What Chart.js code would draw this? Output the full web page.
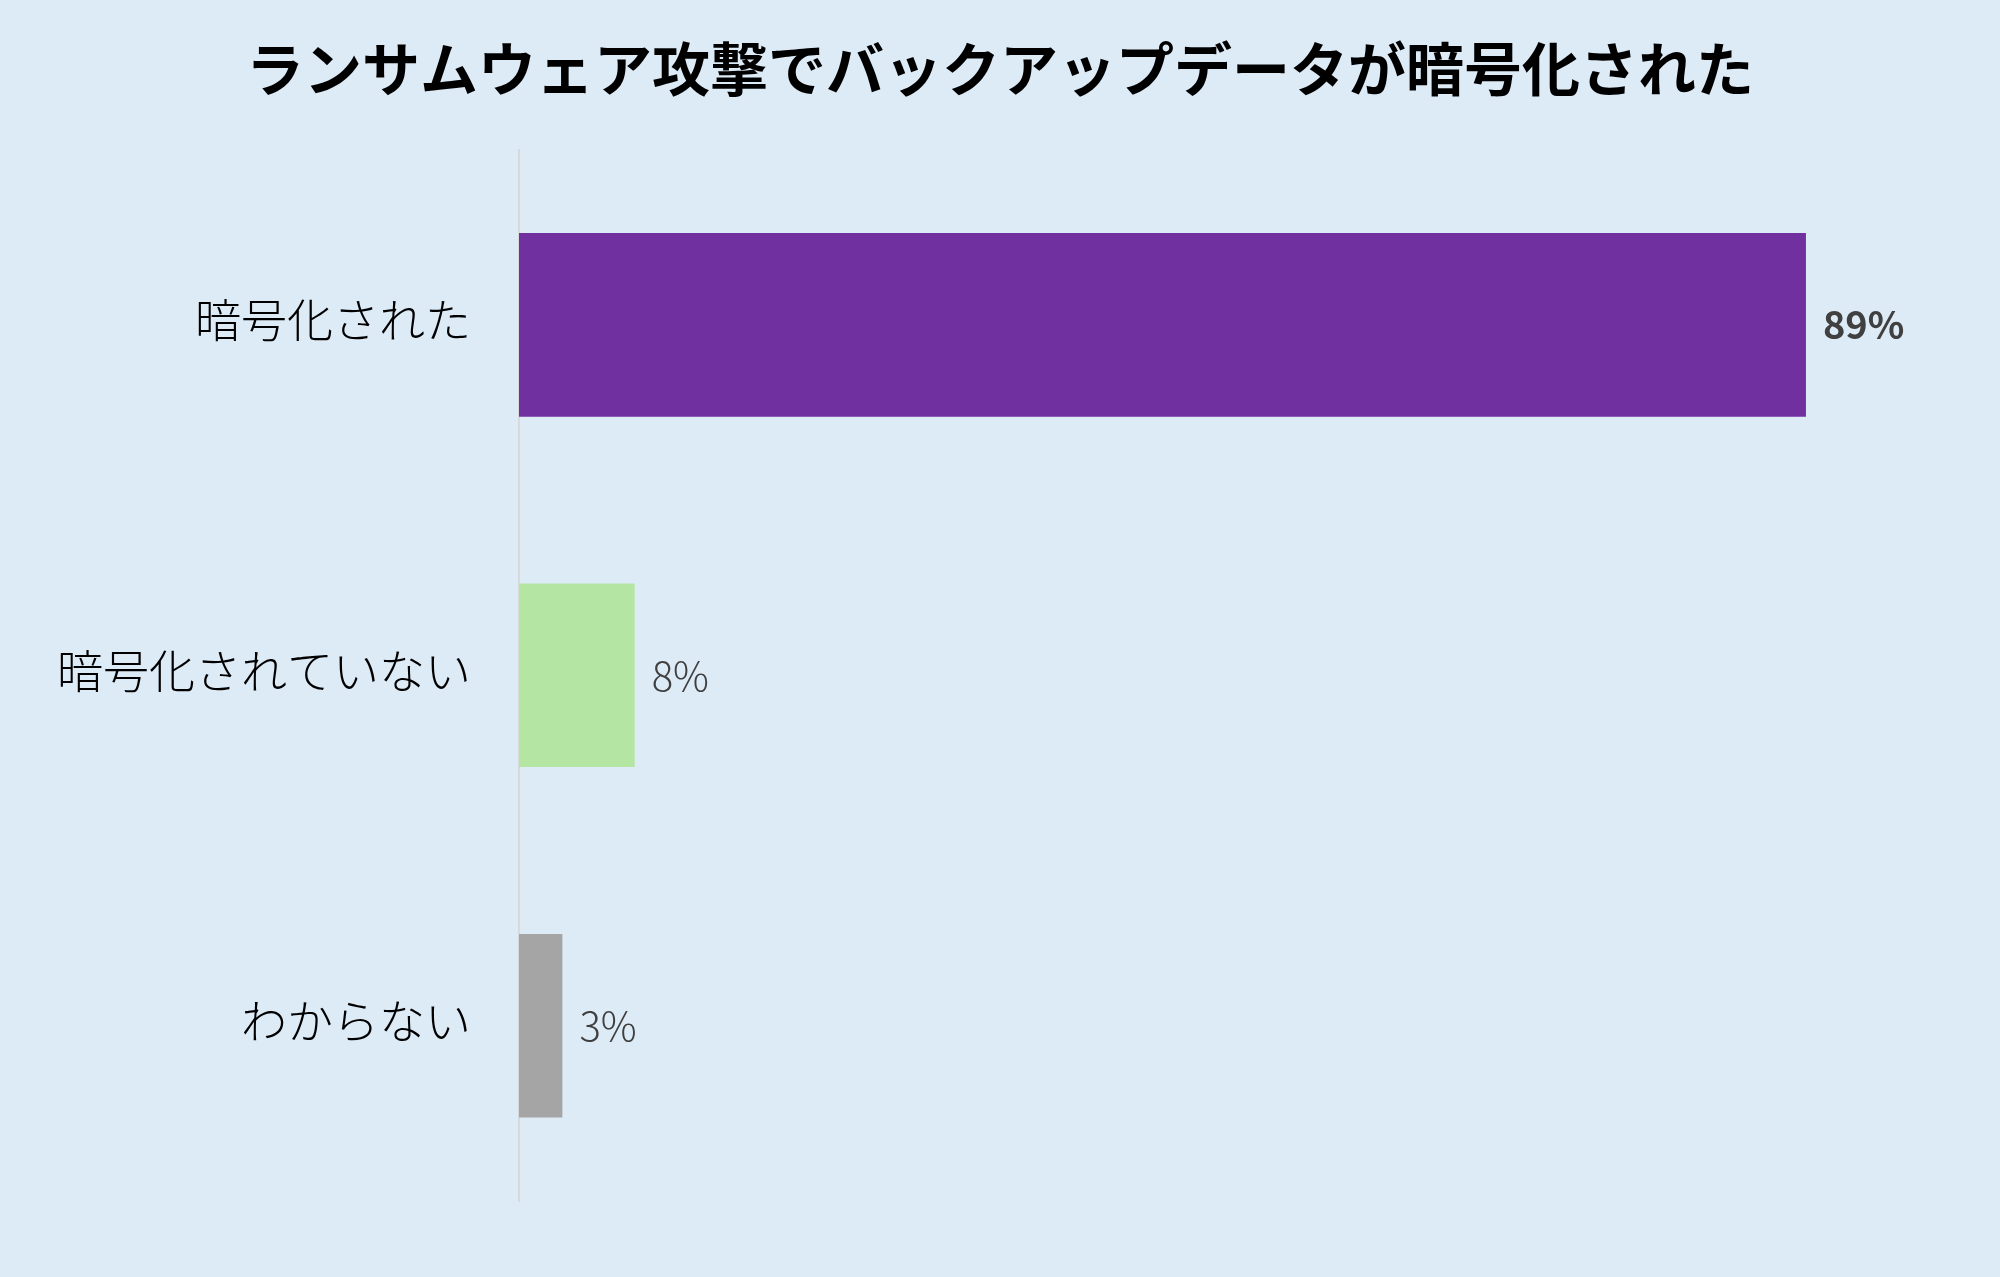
<!DOCTYPE html>
<html lang="ja">
<head>
<meta charset="utf-8">
<script src="https://cdn.jsdelivr.net/npm/chart.js@4/dist/chart.umd.min.js"></script>
<style>
  html, body { margin: 0; padding: 0; background: #DDEBF7; }
  #wrap { width: 2000px; height: 1277px; }
</style>
</head>
<body>
<div id="wrap"><canvas id="c" width="2000" height="1277"></canvas></div>
<script>
const titleText = 'ランサムウェア攻撃でバックアップデータが暗号化された';
const categories = ['暗号化された', '暗号化されていない', 'わからない'];
const values = [89, 8, 3];
const valueLabels = ['89%', '8%', '3%'];
const barColors = ['#7030A0', '#B4E5A2', '#A5A5A5'];
const labelBold = [true, false, false];

const FONT = '"Noto Sans CJK JP", "Noto Sans", sans-serif';

const valueLabelPlugin = {
  id: 'valueLabels',
  afterDatasetsDraw(chart) {
    const ctx = chart.ctx;
    const meta = chart.getDatasetMeta(0);
    ctx.save();
    ctx.textBaseline = 'middle';
    ctx.textAlign = 'left';
    meta.data.forEach((bar, i) => {
      ctx.font = (labelBold[i] ? 'bold 38px ' : '300 40px ') + FONT;
      ctx.fillStyle = '#404040';
      ctx.fillText(valueLabels[i], bar.x + 17, bar.y);
    });
    ctx.restore();
  }
};

new Chart(document.getElementById('c'), {
  type: 'bar',
  data: {
    labels: categories,
    datasets: [{
      data: values,
      backgroundColor: barColors,
      borderWidth: 0,
      barPercentage: 0.524,
      categoryPercentage: 1.0
    }]
  },
  options: {
    indexAxis: 'y',
    responsive: false,
    animation: false,
    devicePixelRatio: 1,
    layout: { padding: { top: 0, right: 35, bottom: 76, left: 35 } },
    plugins: {
      legend: { display: false },
      tooltip: { enabled: false },
      title: {
        display: true,
        text: titleText,
        color: '#000000',
        font: { family: FONT, size: 58, weight: 'bold', lineHeight: 1.2 },
        padding: { top: 34, bottom: 46 }
      }
    },
    scales: {
      x: {
        display: false,
        min: 0,
        max: 100
      },
      y: {
        grid: { display: false },
        border: { display: true, color: '#D9D9D9', width: 2 },
        ticks: {
          color: '#000000',
          padding: 40,
          labelOffset: -5,
          font: { family: FONT, size: 46, weight: '300' }
        },
        afterFit(scale) { scale.width = 484; }
      }
    }
  },
  plugins: [valueLabelPlugin, {
    id: 'bg',
    beforeDraw(chart) {
      const ctx = chart.ctx;
      ctx.save();
      ctx.fillStyle = '#DDEBF7';
      ctx.fillRect(0, 0, chart.width, chart.height);
      ctx.restore();
    }
  }]
});
</script>
</body>
</html>
